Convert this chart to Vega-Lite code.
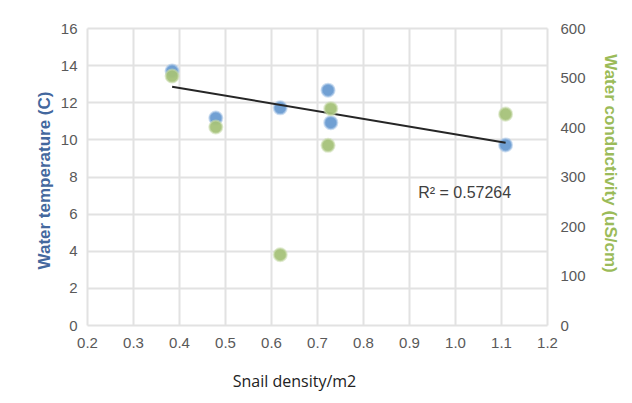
{
  "$schema": "https://vega.github.io/schema/vega-lite/v6.json",
  "width": 460,
  "height": 297,
  "autosize": "none",
  "padding": {"left": 87, "top": 28, "right": 85, "bottom": 78},
  "background": "white",
  "config": {
    "view": {"stroke": null},
    "font": "Liberation Sans",
    "axis": {
      "domain": false,
      "ticks": false,
      "grid": true,
      "gridColor": "#e2e2e2",
      "gridWidth": 2,
      "labelColor": "#595959",
      "labelFontSize": 15,
      "labelFont": "Liberation Sans",
      "labelFlush": false,
      "labelOverlap": false
    }
  },
  "datasets": {
    "temp": [
      {"density": 0.385, "temperature": 13.68},
      {"density": 0.48, "temperature": 11.15},
      {"density": 0.62, "temperature": 11.7},
      {"density": 0.724, "temperature": 12.65},
      {"density": 0.73, "temperature": 10.9},
      {"density": 1.11, "temperature": 9.7}
    ],
    "cond": [
      {"density": 0.385, "conductivity": 503},
      {"density": 0.48, "conductivity": 400},
      {"density": 0.62, "conductivity": 142},
      {"density": 0.724, "conductivity": 363},
      {"density": 0.73, "conductivity": 437},
      {"density": 1.11, "conductivity": 426}
    ],
    "label": [
      {"density": 0.92, "temperature": 7.11, "text": "R² = 0.57264"}
    ]
  },
  "layer": [
    {
      "encoding": {
        "x": {"field": "density", "type": "quantitative", "scale": {"domain": [0.2, 1.2], "nice": false, "zero": false},
          "axis": {"values": [0.2, 0.3, 0.4, 0.5, 0.6, 0.7, 0.8, 0.9, 1, 1.1, 1.2], "labelPadding": 10, "title": "Snail density/m2",
            "titleFont": "Open Sans", "titleFontSize": 16, "titleFontWeight": "normal", "titleColor": "#222222", "titleX": 207, "titleY": 56, "titleBaseline": "middle"}},
        "y": {"field": "temperature", "type": "quantitative", "scale": {"domain": [0, 16], "nice": false},
          "axis": {"values": [0, 2, 4, 6, 8, 10, 12, 14, 16], "labelPadding": 10, "title": "Water temperature (C)",
            "titleFontSize": 17, "titleFontWeight": "bold", "titleColor": "#44689e", "titleX": -43, "titleY": 152, "titleBaseline": "middle"}}
      },
      "layer": [
        {
          "data": {"name": "temp"},
          "mark": {"type": "point", "filled": true, "size": 170, "color": "#6a9bd1", "opacity": 0.95, "stroke": "#a9c6e8", "strokeWidth": 2, "strokeOpacity": 0.6}
        },
        {
          "data": {"name": "temp"},
          "transform": [{"regression": "temperature", "on": "density"}],
          "mark": {"type": "line", "color": "#262626", "strokeWidth": 2}
        },
        {
          "data": {"name": "label"},
          "mark": {"type": "text", "align": "left", "baseline": "middle", "fontSize": 16, "color": "#404040", "font": "Liberation Sans"},
          "encoding": {
            "text": {"field": "text"}
          }
        }
      ]
    },
    {
      "data": {"name": "cond"},
      "mark": {"type": "point", "filled": true, "size": 170, "color": "#a6c27a", "opacity": 0.95, "stroke": "#c9dcae", "strokeWidth": 2, "strokeOpacity": 0.6},
      "encoding": {
        "x": {"field": "density", "type": "quantitative"},
        "y": {"field": "conductivity", "type": "quantitative", "scale": {"domain": [0, 600], "nice": false},
          "axis": {"orient": "right", "grid": false, "values": [0, 100, 200, 300, 400, 500, 600], "labelPadding": 13, "title": "Water conductivity (uS/cm)",
            "titleFontSize": 17, "titleFontWeight": "bold", "titleColor": "#9bbb59", "titleX": 62, "titleY": 135, "titleBaseline": "middle"}}
      }
    }
  ],
  "resolve": {"scale": {"y": "independent"}}
}
